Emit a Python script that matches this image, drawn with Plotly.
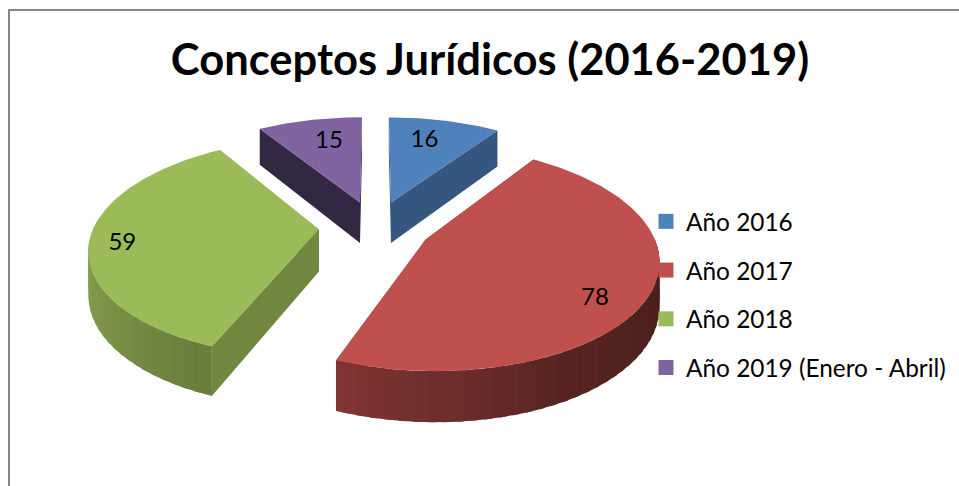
import math
import plotly.graph_objects as go

# --- data ---
categories = ["Año 2016", "Año 2017", "Año 2018", "Año 2019 (Enero - Abril)"]
values = [16, 78, 59, 15]
title_text = "Conceptos Jurídicos (2016-2019)"

# --- style ---
top_colors = ["#4f81bd", "#c0504d", "#9bbb59", "#8064a2"]
radial_shade = [0.67, 0.5, 0.72, 0.40]
FONT = "Lato"

# 3D projection of the exploded pie into the pixel-ranged axes
CX, CY = 375.0, 227.0
RX, RY = 225.0, 106.0
PERSP = 0.16
PULL = 0.25
DEPTH = 42.0


def project(X, Y, z=0.0):
    s = 1.0 / (1.0 + PERSP * Y)
    return CX + RX * X * s, CY - RY * Y * s + DEPTH * z * s


def shade_of(theta):
    pts = [(0, 0.39), (110, 0.39), (150, 0.45), (200, 0.67), (270, 0.90), (360, 0.9)]
    for (a, fa), (b, fb) in zip(pts, pts[1:]):
        if a <= theta <= b:
            return fa + (fb - fa) * (theta - a) / (b - a)
    return 0.9


def scaled(hex_color, f):
    r, g, b = (int(hex_color[i:i + 2], 16) for i in (1, 3, 5))
    return f"rgb({round(r * f)},{round(g * f)},{round(b * f)})"


total = sum(values)
slices = []
start = 0.0
for i, v in enumerate(values):
    sweep = 360.0 * v / total
    mid = math.radians(start + sweep / 2)
    slices.append(dict(i=i, a=start, b=start + sweep,
                       ox=PULL * math.sin(mid), oy=PULL * math.cos(mid), mid=mid))
    start += sweep


def rim(sl, theta):
    t = math.radians(theta)
    return sl["ox"] + math.sin(t), sl["oy"] + math.cos(t)


def polygon(points, color):
    xs = [p[0] for p in points] + [points[0][0]]
    ys = [p[1] for p in points] + [points[0][1]]
    return go.Scatter(x=xs, y=ys, mode="lines", fill="toself", fillcolor=color,
                      line=dict(color=color, width=0), hoverinfo="skip",
                      showlegend=False)


fig = go.Figure()

# side walls, drawn from far to near; curved strips overlap to hide seams
walls = []
for sl in slices:
    color = top_colors[sl["i"]]
    apex = (sl["ox"], sl["oy"])
    wall_color = scaled(color, radial_shade[sl["i"]])
    for theta in (sl["a"], sl["b"]):
        p = rim(sl, theta)
        face = [project(*apex), project(*p), project(*p, 1), project(*apex, 1)]
        walls.append(((apex[1] + p[1]) / 2, face, wall_color))
    n = max(2, int((sl["b"] - sl["a"]) / 3))
    for k in range(n):
        t0 = sl["a"] + (sl["b"] - sl["a"]) * k / n
        t1 = sl["a"] + (sl["b"] - sl["a"]) * (k + 1) / n
        tm = (t0 + t1) / 2
        if 90 < tm < 275:
            arc = [rim(sl, t0 + (min(t1 + 1.5, sl["b"]) - t0) * j / 4) for j in range(5)]
            face = [project(*p) for p in arc] + [project(*p, 1) for p in reversed(arc)]
            walls.append(((arc[0][1] + arc[-1][1]) / 2, face, scaled(color, shade_of(tm))))
for _, face, c in sorted(walls, key=lambda w: -w[0]):
    fig.add_trace(polygon(face, c))

# top faces
for sl in slices:
    pts = [project(sl["ox"], sl["oy"])]
    n = max(8, int(sl["b"] - sl["a"]))
    for k in range(n + 1):
        pts.append(project(*rim(sl, sl["a"] + (sl["b"] - sl["a"]) * k / n)))
    fig.add_trace(polygon(pts, top_colors[sl["i"]]))

# data labels
label_radius = [0.75, 0.75, 0.855, 0.75]
label_nudge = [(-8, 2), (5, 18), (-1, 6), (8, 3)]
lx, ly = [], []
for sl in slices:
    r = label_radius[sl["i"]]
    px, py = project(sl["ox"] + r * math.sin(sl["mid"]), sl["oy"] + r * math.cos(sl["mid"]))
    lx.append(px + label_nudge[sl["i"]][0])
    ly.append(py + label_nudge[sl["i"]][1])
fig.add_trace(go.Scatter(x=lx, y=ly, mode="text", text=[str(v) for v in values],
                         textposition="middle center",
                         textfont=dict(family=FONT, size=24, color="black"),
                         hoverinfo="skip", showlegend=False))

# legend entries
for i, name in enumerate(categories):
    fig.add_trace(go.Scatter(x=[None], y=[None], mode="markers", name=name,
                             legendgroup=name,
                             marker=dict(symbol="square", size=15, color=top_colors[i])))

fig.update_layout(
    width=959, height=486,
    margin=dict(l=0, r=0, t=0, b=0),
    paper_bgcolor="white", plot_bgcolor="white",
    xaxis=dict(range=[0, 959], visible=False, fixedrange=True),
    yaxis=dict(range=[486, 0], visible=False, fixedrange=True),
    title=dict(text=f"<b>{title_text}</b>", x=490 / 959, y=1 - 60 / 486,
               xanchor="center", yanchor="middle",
               font=dict(family=FONT, size=43.5, color="black")),
    legend=dict(x=646 / 959, y=1 - 199 / 486, xanchor="left", yanchor="top",
                bgcolor="rgba(0,0,0,0)", itemwidth=30, tracegroupgap=14,
                font=dict(family=FONT, size=24.4, color="black")),
    shapes=[
        dict(type="line", x0=9, x1=9, y0=9, y1=486, line=dict(color="#868686", width=2)),
        dict(type="line", x0=8, x1=959, y0=10, y1=10, line=dict(color="#868686", width=2)),
    ],
)
fig.write_html("out.html", post_script="document.body.style.margin='0';",
               config={"displayModeBar": False})
